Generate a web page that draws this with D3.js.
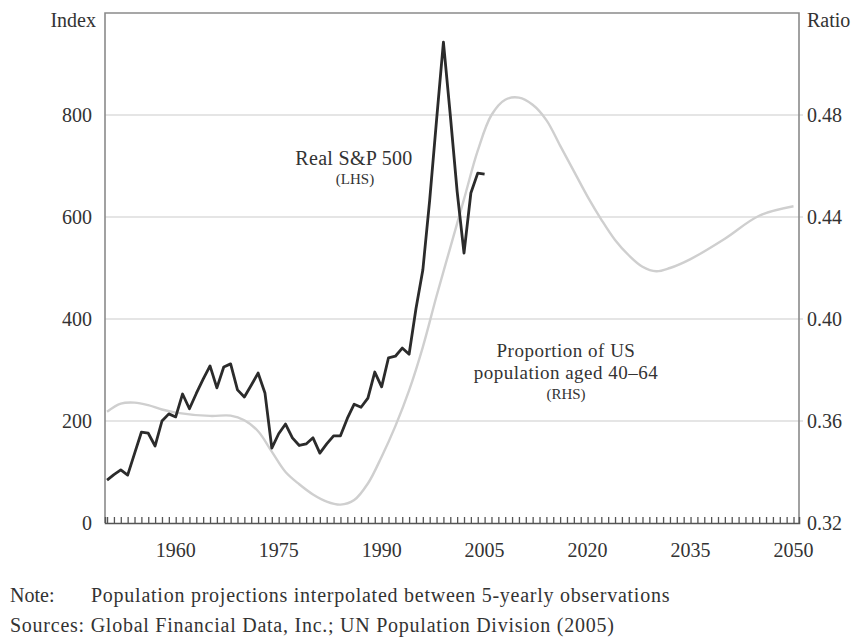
<!DOCTYPE html>
<html>
<head>
<meta charset="utf-8">
<script src="https://cdn.jsdelivr.net/npm/d3@7"></script>
<style>
  body { margin: 0; background: #fff; }
  text { font-family: "Liberation Serif", "Times New Roman", serif; fill: #333; }
</style>
</head>
<body>
<svg width="855" height="638"></svg>
<script>
'use strict';

// S&P 500 real index, yearly (LHS)
var spYears = d3.range(1950, 2006);
var spValues = [84, 95, 104, 94, 136, 178, 176, 151, 200, 214,
  208, 253, 224, 254, 282, 308, 265, 306, 312, 261,
  247, 270, 294, 255, 147, 175, 194, 167, 152, 155,
  167, 137, 155, 171, 171, 205, 233, 227, 245, 296,
  267, 324, 327, 343, 331, 420, 496, 633, 790, 943,
  800, 650, 529, 647, 686, 684];

// proportion of US population aged 40-64 (RHS)
var popYears = [1950, 1952, 1954, 1956, 1958, 1960, 1965, 1968, 1970, 1972,
  1974, 1976, 1978, 1980, 1982, 1984, 1986, 1988, 1990, 1992,
  1994, 1996, 1998, 2000, 2002, 2004, 2006, 2008, 2010, 2012,
  2014, 2016, 2018, 2020, 2022, 2024, 2026, 2028, 2030, 2032,
  2035, 2040, 2045, 2050];
var popValues = [0.3636, 0.3668, 0.3672, 0.3662, 0.3645, 0.3633, 0.3620, 0.3621, 0.3603, 0.3560,
  0.3480, 0.3400, 0.3352, 0.3312, 0.3284, 0.3272, 0.3290, 0.3355, 0.3460, 0.3580,
  0.3720, 0.3890, 0.4090, 0.4280, 0.4470, 0.4660, 0.4800, 0.4860, 0.4868, 0.4840,
  0.4780, 0.4680, 0.4580, 0.4480, 0.4390, 0.4310, 0.4250, 0.4205, 0.4187, 0.4200,
  0.4235, 0.4315, 0.4405, 0.4442];

var leftTicks = [0, 200, 400, 600, 800];
var rightTicks = [0.32, 0.36, 0.40, 0.44, 0.48];
var yearTicks = [1960, 1975, 1990, 2005, 2020, 2035, 2050];

var svg = d3.select("svg");
var plotL = 105, plotR = 799, plotT = 13, plotB = 523;

var x = d3.scaleLinear().domain([1949.7, 2050.8]).range([plotL, plotR]);
var yL = d3.scaleLinear().domain([0, 1000]).range([plotB, plotT]);
var yR = d3.scaleLinear().domain([0.32, 0.52]).range([plotB, plotT]);

// gridlines
svg.append("g")
  .selectAll("line")
  .data(leftTicks.slice(1))
  .enter().append("line")
  .attr("x1", plotL).attr("x2", plotR + 4)
  .attr("y1", function (d) { return yL(d); })
  .attr("y2", function (d) { return yL(d); })
  .attr("stroke", "#dcdcdc")
  .attr("stroke-width", 1.5);

// frame
svg.append("path")
  .attr("d", "M" + plotL + "," + plotB + "V" + plotT + "H" + plotR + "V" + plotB)
  .attr("fill", "none")
  .attr("stroke", "#8a8a8a")
  .attr("stroke-width", 1.6);

// bottom axis, a tick every year
var xAxis = svg.append("g")
  .attr("transform", "translate(0," + plotB + ")")
  .call(d3.axisTop(x).tickValues(d3.range(1950, 2051)).tickSize(6).tickFormat(""));
xAxis.select(".domain").attr("stroke", "#555").attr("stroke-width", 1.5);
xAxis.selectAll(".tick line").attr("stroke", "#555").attr("stroke-width", 1.3);

svg.append("g")
  .selectAll("text")
  .data(yearTicks)
  .enter().append("text")
  .attr("x", function (d) { return x(d); })
  .attr("y", 557)
  .attr("text-anchor", "middle")
  .attr("font-size", 20)
  .text(function (d) { return d; });

// left axis labels
svg.append("g")
  .selectAll("text")
  .data(leftTicks)
  .enter().append("text")
  .attr("x", 92)
  .attr("y", function (d) { return yL(d) + 7; })
  .attr("text-anchor", "end")
  .attr("font-size", 20)
  .text(function (d) { return d; });

// right axis labels
svg.append("g")
  .selectAll("text")
  .data(rightTicks)
  .enter().append("text")
  .attr("x", 807)
  .attr("y", function (d) { return yR(d) + 7; })
  .attr("font-size", 20)
  .text(function (d) { return d.toFixed(2); });

svg.append("text").attr("x", 96).attr("y", 27).attr("text-anchor", "end")
  .attr("font-size", 20).text("Index");
svg.append("text").attr("x", 807).attr("y", 27)
  .attr("font-size", 20).text("Ratio");

// population line
var popLine = d3.line()
  .x(function (d, i) { return x(popYears[i]); })
  .y(function (d) { return yR(d); })
  .curve(d3.curveCatmullRom.alpha(0.5));

svg.append("path")
  .datum(popValues)
  .attr("d", popLine)
  .attr("fill", "none")
  .attr("stroke", "#cfcfcf")
  .attr("stroke-width", 2.4);

// S&P line
var spLine = d3.line()
  .x(function (d, i) { return x(spYears[i]); })
  .y(function (d) { return yL(d); });

svg.append("path")
  .datum(spValues)
  .attr("d", spLine)
  .attr("fill", "none")
  .attr("stroke", "#2b2b2b")
  .attr("stroke-width", 2.8)
  .attr("stroke-linejoin", "round");

// series labels
svg.append("text").attr("x", 354).attr("y", 165).attr("text-anchor", "middle")
  .attr("font-size", 20).attr("letter-spacing", 0.3).text("Real S&P 500");
svg.append("text").attr("x", 355).attr("y", 184).attr("text-anchor", "middle")
  .attr("font-size", 15).text("(LHS)");

svg.append("text").attr("x", 566).attr("y", 357).attr("text-anchor", "middle")
  .attr("font-size", 19).attr("letter-spacing", 0.5).text("Proportion of US");
svg.append("text").attr("x", 566).attr("y", 379).attr("text-anchor", "middle")
  .attr("font-size", 19).attr("letter-spacing", 0.5).text("population aged 40\u201364");
svg.append("text").attr("x", 566).attr("y", 399).attr("text-anchor", "middle")
  .attr("font-size", 15).text("(RHS)");

// notes
svg.append("text").attr("x", 10).attr("y", 602).attr("font-size", 20).text("Note:");
svg.append("text").attr("x", 91).attr("y", 602).attr("font-size", 20).attr("letter-spacing", 0.75)
  .text("Population projections interpolated between 5-yearly observations");
svg.append("text").attr("x", 10).attr("y", 632).attr("font-size", 20).attr("letter-spacing", 0.75)
  .text("Sources: Global Financial Data, Inc.; UN Population Division (2005)");
</script>
</body>
</html>
